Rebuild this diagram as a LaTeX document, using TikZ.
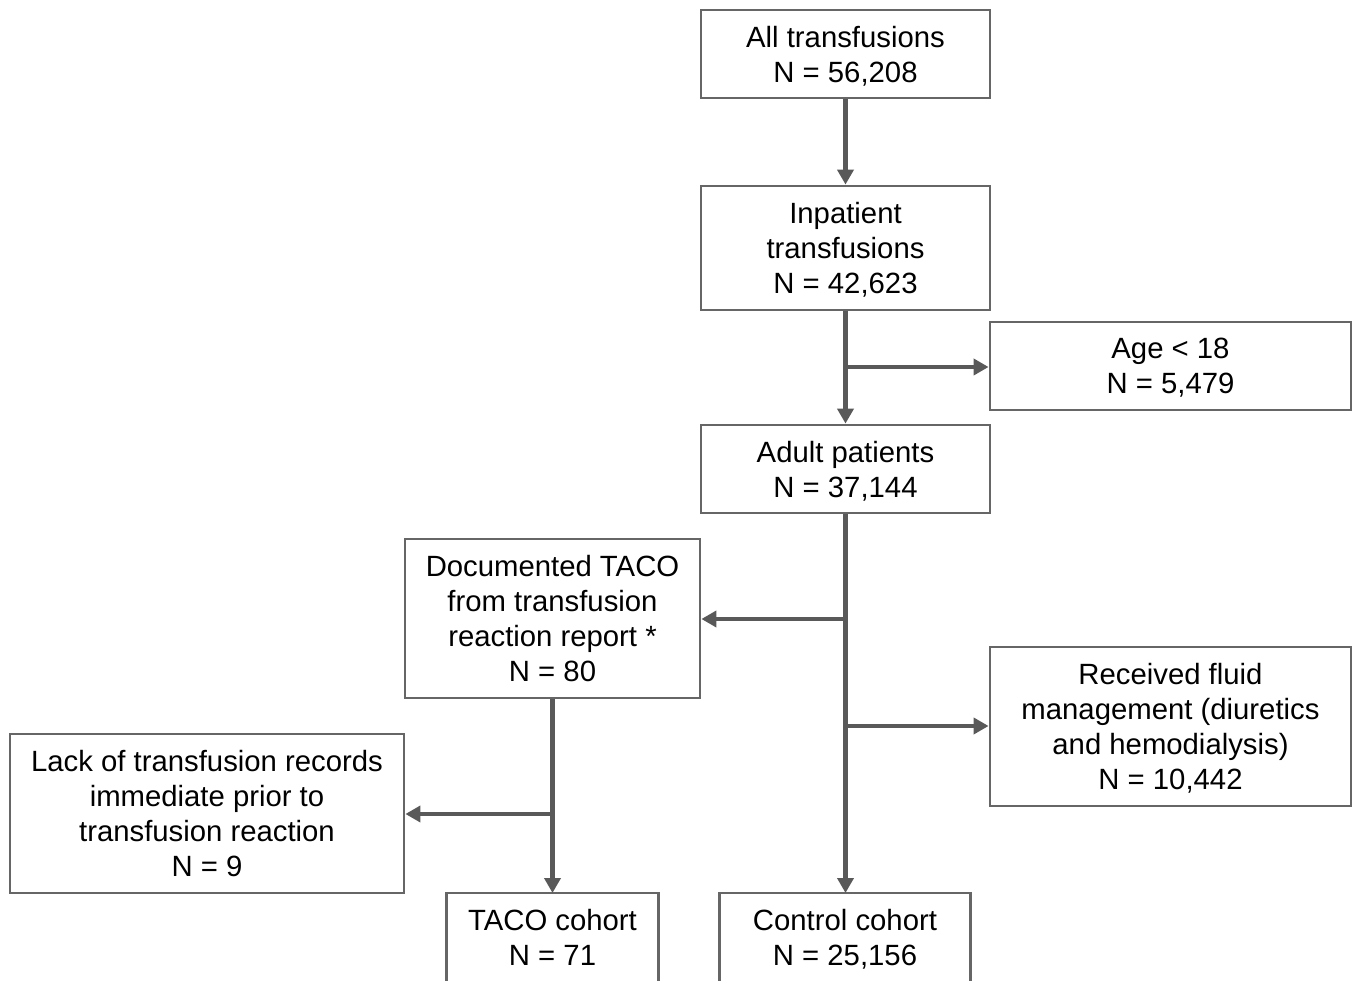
\documentclass[tikz,border=0pt]{standalone}
\usepackage{fontspec}
\setmainfont{Liberation Sans}
\usetikzlibrary{arrows.meta}
\definecolor{linegray}{HTML}{595959}
\definecolor{boxgray}{HTML}{666666}
\newcommand\nodp[1]{\raisebox{0pt}[\height][0pt]{#1}}
\begin{document}
\begin{tikzpicture}[x=1pt,y=-1pt,
  boxtext/.style={inner sep=0pt, align=center, font=\fontsize{29.3}{35}\selectfont},
  box/.style={boxtext, draw=boxgray, line width=2.8pt, fill=white},
  openbox/.style={boxtext},
  boxline/.style={draw=boxgray, line width=2.8pt},
  arr/.style={draw=linegray, line width=4.6pt, -{Triangle[length=15pt,width=16pt]}}]
\useasboundingbox (0,0) rectangle (1358,981);
\node[box, minimum width=289pt, minimum height=88pt] (all) at (845.5,54) {All transfusions\\\nodp{N = 56,208}};
\node[box, minimum width=289pt, minimum height=124pt] (inp) at (845.5,248) {Inpatient\\transfusions\\\nodp{N = 42,623}};
\node[box, minimum width=361pt, minimum height=88pt] (age) at (1170.5,366) {Age < 18\\\nodp{N = 5,479}};
\node[box, minimum width=289pt, minimum height=88pt] (adult) at (845.5,469) {Adult patients\\\nodp{N = 37,144}};
\node[box, minimum width=295pt, minimum height=159pt] (doc) at (552.5,618.5) {Documented TACO\\from transfusion\\reaction report *\\\nodp{N = 80}};
\node[box, minimum width=361pt, minimum height=159pt] (fluid) at (1170.5,726.5) {Received fluid\\management (diuretics\\and hemodialysis)\\\nodp{N = 10,442}};
\node[box, minimum width=394pt, minimum height=159pt] (lack) at (207,813.5) {Lack of transfusion records\\immediate prior to\\transfusion reaction\\\nodp{N = 9}};
\node[openbox, minimum width=211pt, minimum height=88pt, anchor=north] (taco) at (552.5,893) {TACO cohort\\\nodp{N = 71}};
\node[openbox, minimum width=250pt, minimum height=88pt, anchor=north] (ctrl) at (845,893) {Control cohort\\\nodp{N = 25,156}};
\draw[boxline] ([yshift=-12pt]taco.south west) -- (taco.north west) -- (taco.north east) -- ([yshift=-12pt]taco.south east);
\draw[boxline] ([yshift=-12pt]ctrl.south west) -- (ctrl.north west) -- (ctrl.north east) -- ([yshift=-12pt]ctrl.south east);

\coordinate (j1) at (845.5,367);
\coordinate (j2) at (845.5,619);
\coordinate (j3) at (845.5,726);
\coordinate (j4) at (552.5,814);

\draw[arr] (all.south) -- (inp.north);
\draw[arr] (inp.south) -- (adult.north);
\draw[arr] (j1) -- (j1 -| age.west);
\draw[arr] (adult.south) -- (adult.south |- ctrl.north);
\draw[arr] (j2) -- (j2 -| doc.east);
\draw[arr] (j3) -- (j3 -| fluid.west);
\draw[arr] (doc.south) -- (taco.north);
\draw[arr] (j4) -- (j4 -| lack.east);
\end{tikzpicture}
\end{document}
